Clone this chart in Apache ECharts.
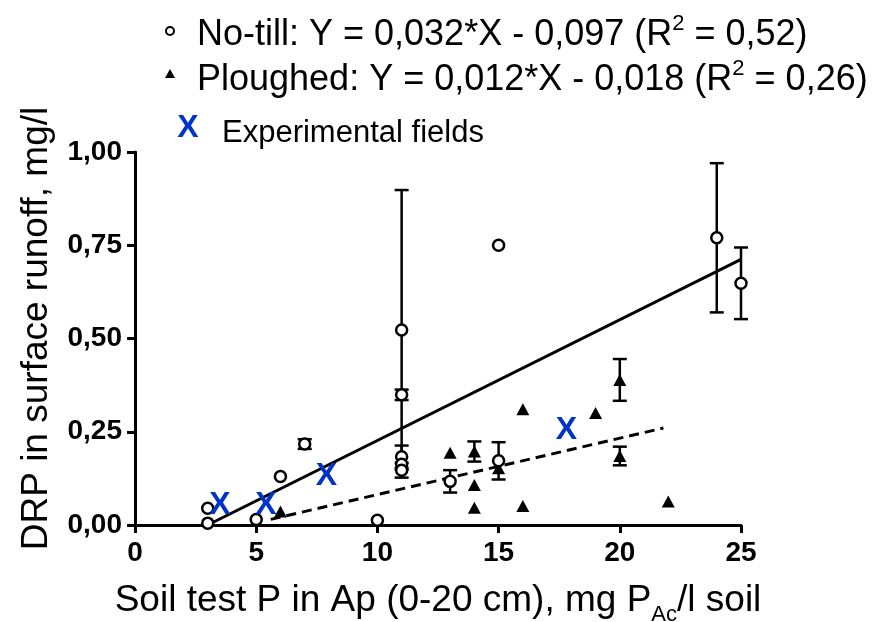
<!DOCTYPE html>
<html><head><meta charset="utf-8">
<script src="https://cdn.jsdelivr.net/npm/echarts@6/dist/echarts.min.js"></script>
<style>html,body{margin:0;padding:0;background:#fff}#c{width:893px;height:622px}</style>
</head><body><div id="c"></div>
<script>
// ---- data ----
const noTillX   = [3, 3, 5, 6, 7, 10, 11, 11, 11, 11, 11, 13, 15, 15, 24, 25];
const noTillY   = [0.045, 0.005, 0.015, 0.13, 0.217, 0.013, 0.523, 0.349, 0.183, 0.163, 0.147, 0.117, 0.75, 0.172, 0.77, 0.648];
const noTillErr = [0, 0, 0, 0, 0.013, 0, 0.375, 0.014, 0.03, 0, 0.02, 0.03, 0, 0.05, 0.2, 0.096];

const ploughX   = [5, 6, 13, 14, 14, 14, 15, 16, 16, 19, 20, 20, 22];
const ploughY   = [0.012, 0.036, 0.194, 0.197, 0.107, 0.046, 0.152, 0.31, 0.051, 0.30, 0.389, 0.185, 0.063];
const ploughErr = [0, 0, 0, 0.027, 0, 0, 0, 0, 0, 0, 0.056, 0.025, 0];

const expX = [3.5, 5.4, 7.9, 17.8];
const expY = [0.054, 0.054, 0.131, 0.255];

const noTillFitX = [3, 25];
const noTillFitY = [0.0, 0.712];
const ploughFitX = [5.6, 21.8];
const ploughFitY = [0.015, 0.26];

const xTickValues = [0, 5, 10, 15, 20, 25];
const xTickLabels = ['0', '5', '10', '15', '20', '25'];
const yTickValues = [0, 0.25, 0.5, 0.75, 1];
const yTickLabels = ['0,00', '0,25', '0,50', '0,75', '1,00'];

const legendNoTill = 'No-till: Y = 0,032*X - 0,097 (R';
const legendNoTillEnd = ' = 0,52)';
const legendPlough = 'Ploughed: Y = 0,012*X - 0,018 (R';
const legendPloughEnd = ' = 0,26)';
const legendExp = 'Experimental fields';
const xTitle = 'Soil test P in Ap (0-20 cm), mg P';
const xTitleSub = 'Ac';
const xTitleEnd = '/l soil';
const yTitle = 'DRP in surface runoff, mg/l';

// ---- chart ----
const FONT = 'Liberation Sans, Arial, sans-serif';
const BLUE = '#0033cc';
const chart = echarts.init(document.getElementById('c'), null, {renderer: 'canvas'});

function pairs(xs, ys) { return xs.map((x, i) => [x, ys[i]]); }
function triples(xs, ys, es) { return xs.map((x, i) => [x, ys[i], es[i]]).filter(d => d[2] > 0); }

function errSeries(xs, ys, es) {
  return {
    type: 'custom', silent: true, z: 3,
    encode: {x: 0, y: 1},
    data: triples(xs, ys, es),
    renderItem(params, api) {
      const x = api.value(0), y = api.value(1), e = api.value(2);
      const top = api.coord([x, y + e]), bot = api.coord([x, y - e]);
      const hw = 7;
      const style = {stroke: '#000', lineWidth: 2.5, fill: null};
      return {type: 'group', children: [
        {type: 'line', shape: {x1: top[0], y1: top[1], x2: bot[0], y2: bot[1]}, style},
        {type: 'line', shape: {x1: top[0] - hw, y1: top[1], x2: top[0] + hw, y2: top[1]}, style},
        {type: 'line', shape: {x1: bot[0] - hw, y1: bot[1], x2: bot[0] + hw, y2: bot[1]}, style}
      ]};
    }
  };
}

const supRich = {
  a: {fontSize: 36, fontFamily: FONT, color: '#000', lineHeight: 40, verticalAlign: 'bottom'},
  s: {fontSize: 22, fontFamily: FONT, color: '#000', lineHeight: 24, verticalAlign: 'top'}
};

const option = {
  animation: false,
  backgroundColor: '#fff',
  grid: {left: 135, top: 152, right: 152, bottom: 97, containLabel: false, outerBoundsMode: 'none'},
  xAxis: {
    type: 'value', min: 0, max: 25, interval: 5,
    name: '{m|' + xTitle + '}{sub|' + xTitleSub + '}{m|' + xTitleEnd + '}',
    nameLocation: 'middle', nameGap: 57,
    nameTextStyle: {
      fontSize: 37, fontFamily: FONT, color: '#000', lineHeight: 44,
      rich: {
        m: {fontSize: 37, fontFamily: FONT, color: '#000', lineHeight: 44, verticalAlign: 'top'},
        sub: {fontSize: 22, fontFamily: FONT, color: '#000', lineHeight: 22, verticalAlign: 'bottom'}
      }
    },
    axisLine: {show: true, onZero: false, lineStyle: {color: '#000', width: 3}},
    axisTick: {show: true, length: 8, lineStyle: {color: '#000', width: 3}},
    axisLabel: {
      fontSize: 28, fontWeight: 'bold', fontFamily: FONT, color: '#000', margin: 14,
      formatter: v => { const i = xTickValues.indexOf(v); return i >= 0 ? xTickLabels[i] : ''; }
    },
    splitLine: {show: false}
  },
  yAxis: {
    type: 'value', min: 0, max: 1, interval: 0.25,
    name: yTitle, nameLocation: 'middle', nameGap: 72, nameRotate: 90,
    nameTextStyle: {fontSize: 37, fontFamily: FONT, color: '#000', lineHeight: 40, padding: [0, 0, 0, 20]},
    axisLine: {show: true, onZero: false, lineStyle: {color: '#000', width: 3}},
    axisTick: {show: true, length: 8, lineStyle: {color: '#000', width: 3}},
    axisLabel: {
      fontSize: 28, fontWeight: 'bold', fontFamily: FONT, color: '#000', margin: 13,
      formatter: v => { const i = yTickValues.findIndex(t => Math.abs(t - v) < 1e-9); return i >= 0 ? yTickLabels[i] : ''; }
    },
    splitLine: {show: false}
  },
  series: [
    {type: 'line', data: pairs(noTillFitX, noTillFitY), symbol: 'none', silent: true, z: 2,
     lineStyle: {color: '#000', width: 3, type: 'solid'}},
    {type: 'line', data: pairs(ploughFitX, ploughFitY), symbol: 'none', silent: true, z: 2,
     lineStyle: {color: '#000', width: 3, type: [10, 6]}},
    errSeries(noTillX, noTillY, noTillErr),
    errSeries(ploughX, ploughY, ploughErr),
    {type: 'scatter', name: 'Ploughed', data: pairs(ploughX, ploughY), z: 4,
     symbol: 'triangle', symbolSize: [13, 12], itemStyle: {color: '#000', opacity: 1}},
    {type: 'scatter', name: 'No-till', data: pairs(noTillX, noTillY), z: 5,
     symbol: 'circle', symbolSize: 11, itemStyle: {color: '#ffffff', opacity: 1, borderColor: '#000', borderWidth: 2.5}},
    {type: 'scatter', name: 'Experimental fields', data: pairs(expX, expY), z: 6,
     symbol: 'circle', symbolSize: 1, itemStyle: {color: 'rgba(0,0,0,0)', opacity: 1},
     label: {show: true, position: 'inside', formatter: 'X', fontSize: 32, fontWeight: 'bold', fontFamily: FONT,
             color: BLUE, textBorderWidth: 0, opacity: 1}}
  ],
  graphic: [
    {type: 'circle', shape: {cx: 170, cy: 31, r: 4}, style: {fill: '#fff', stroke: '#000', lineWidth: 2}},
    {type: 'text', x: 197, y: 33, style: {
      text: '{a|' + legendNoTill + '}{s|2}{a|' + legendNoTillEnd + '}',
      rich: supRich, verticalAlign: 'middle', align: 'left'}},
    {type: 'polygon', shape: {points: [[170, 69], [165, 78], [175, 78]]}, style: {fill: '#000'}},
    {type: 'text', x: 197, y: 78, style: {
      text: '{a|' + legendPlough + '}{s|2}{a|' + legendPloughEnd + '}',
      rich: supRich, verticalAlign: 'middle', align: 'left'}},
    {type: 'text', x: 188, y: 128, style: {
      text: 'X', fontSize: 32, fontWeight: 'bold', fontFamily: FONT, fill: BLUE, align: 'center', verticalAlign: 'middle'}},
    {type: 'text', x: 222, y: 133, style: {
      text: legendExp, fontSize: 31, fontFamily: FONT, fill: '#000', align: 'left', verticalAlign: 'middle'}}
  ]
};
chart.setOption(option);
</script>
</body></html>
